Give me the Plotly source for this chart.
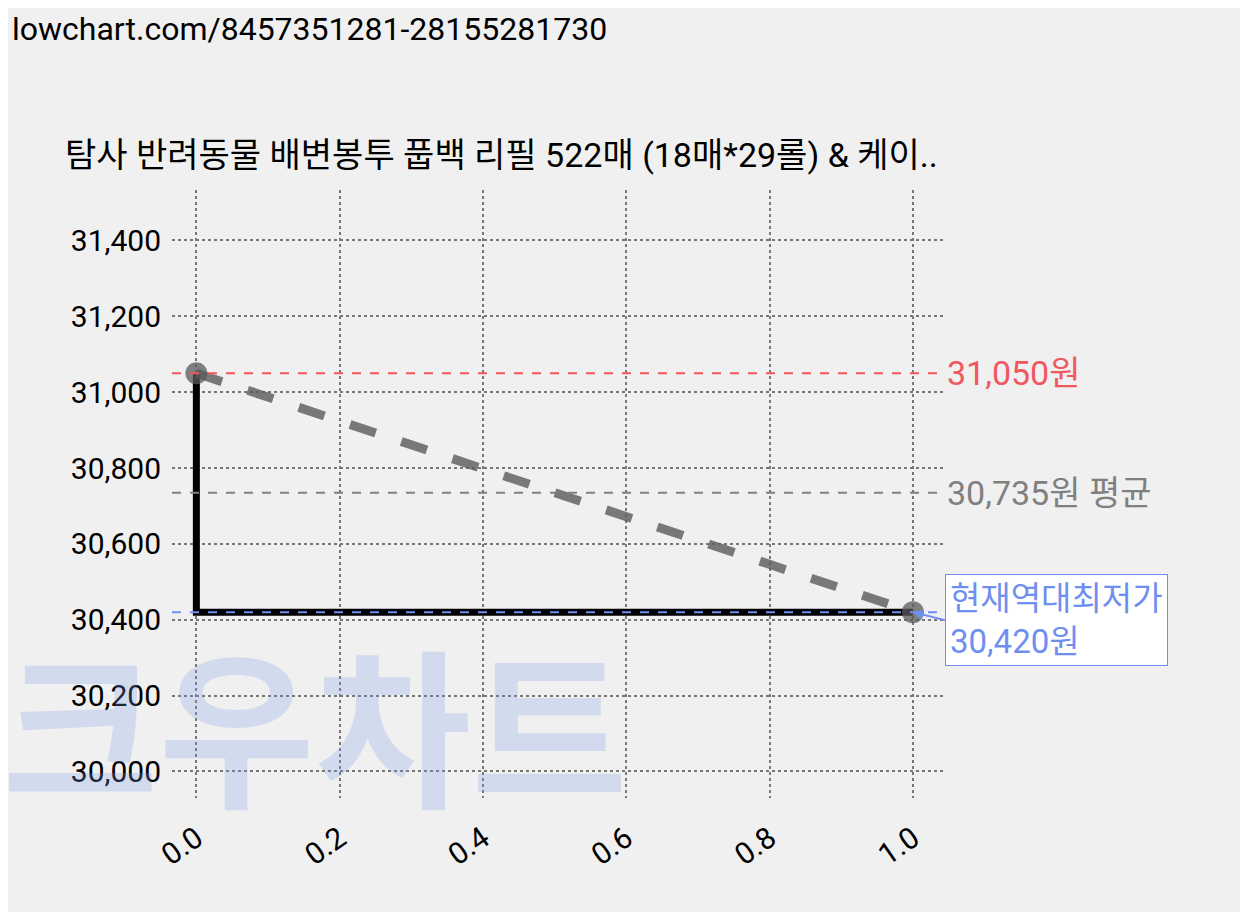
import plotly.graph_objects as go

x_vals = [0, 1]
prices = [31050, 30420]
max_price = 31050
avg_price = 30735
min_price = 30420
y_ticks = [30000, 30200, 30400, 30600, 30800, 31000, 31200, 31400]
x_ticks = [0.0, 0.2, 0.4, 0.6, 0.8, 1.0]
title = "탐사 반려동물 배변봉투 풉백 리필 522매 (18매*29롤) & 케이.."

F = "Roboto, 'Noto Sans CJK KR', sans-serif"
fig = go.Figure()
fig.add_trace(go.Scatter(x=[x_vals[0], x_vals[0], x_vals[1]], y=[prices[0], prices[1], prices[1]],
                         mode="lines", line=dict(color="black", width=7), showlegend=False))
fig.add_trace(go.Scatter(x=x_vals, y=prices, mode="lines+markers",
                         line=dict(color="rgba(90,90,90,0.8)", width=9, dash="dash"),
                         marker=dict(size=22, color="rgba(90,90,90,0.75)"), showlegend=False))
for v, c in [(max_price, "#f0575f"), (avg_price, "#808080"), (min_price, "#6f8ff0")]:
    fig.add_shape(type="line", xref="paper", x0=0, x1=1, y0=v, y1=v,
                  line=dict(color=c, width=2, dash="dash"))
fig.add_annotation(x=1, xref="paper", y=max_price, text=f"{max_price:,}원", showarrow=False,
                   xanchor="left", xshift=2, font=dict(size=34, color="#f0575f", family=F))
fig.add_annotation(x=1, xref="paper", y=avg_price, text=f"{avg_price:,}원 평균", showarrow=False,
                   xanchor="left", xshift=2, font=dict(size=34, color="#808080", family=F))
fig.add_annotation(x=1, y=min_price, text=f"현재역대최저가<br>{min_price:,}원", showarrow=True,
                   arrowhead=2, arrowcolor="#6f8ff0", arrowwidth=2, ax=32, ay=8, xanchor="left",
                   align="left", bgcolor="white", bordercolor="#6f8ff0", borderwidth=1, borderpad=4,
                   font=dict(size=33, color="#6f8ff0", family=F))
fig.add_annotation(x=0.0, xref="paper", y=0.1, yref="paper", text="<b>크우차트</b>", showarrow=False,
                   xanchor="left", xshift=-172, yanchor="middle",
                   font=dict(size=170, color="rgba(120,150,230,0.25)", family=F))
fig.add_annotation(x=0, xref="paper", xshift=-162, y=1, yref="paper", yshift=182,
                   text="lowchart.com/8457351281-28155281730", showarrow=False,
                   xanchor="left", yanchor="top", font=dict(size=32, color="black", family=F))
fig.update_layout(
    width=1248, height=912, paper_bgcolor="#f0f0f0", plot_bgcolor="#f0f0f0",
    margin=dict(l=164, r=313, t=182, b=122),
    title=dict(text=title, x=57/1248, xanchor="left", y=1-147/912, yanchor="middle",
               font=dict(size=34, color="black", family=F)),
    font=dict(family=F, size=30, color="black"),
)
fig.update_xaxes(range=[-0.034, 1.042], tickvals=x_ticks, ticktext=[f"{t:.1f}" for t in x_ticks],
                 tickangle=-35, showgrid=True, gridcolor="#777", griddash="dot", gridwidth=2,
                 zeroline=False, ticks="outside", tickcolor="#f0f0f0", ticklen=10,
                 tickfont=dict(size=30))
fig.update_yaxes(range=[29930, 31533], tickvals=y_ticks, tickformat=",",
                 showgrid=True, gridcolor="#777", griddash="dot", gridwidth=2,
                 zeroline=False, ticks="outside", tickcolor="#f0f0f0", ticklen=4,
                 tickfont=dict(size=30))
fig.write_html("out.html")
